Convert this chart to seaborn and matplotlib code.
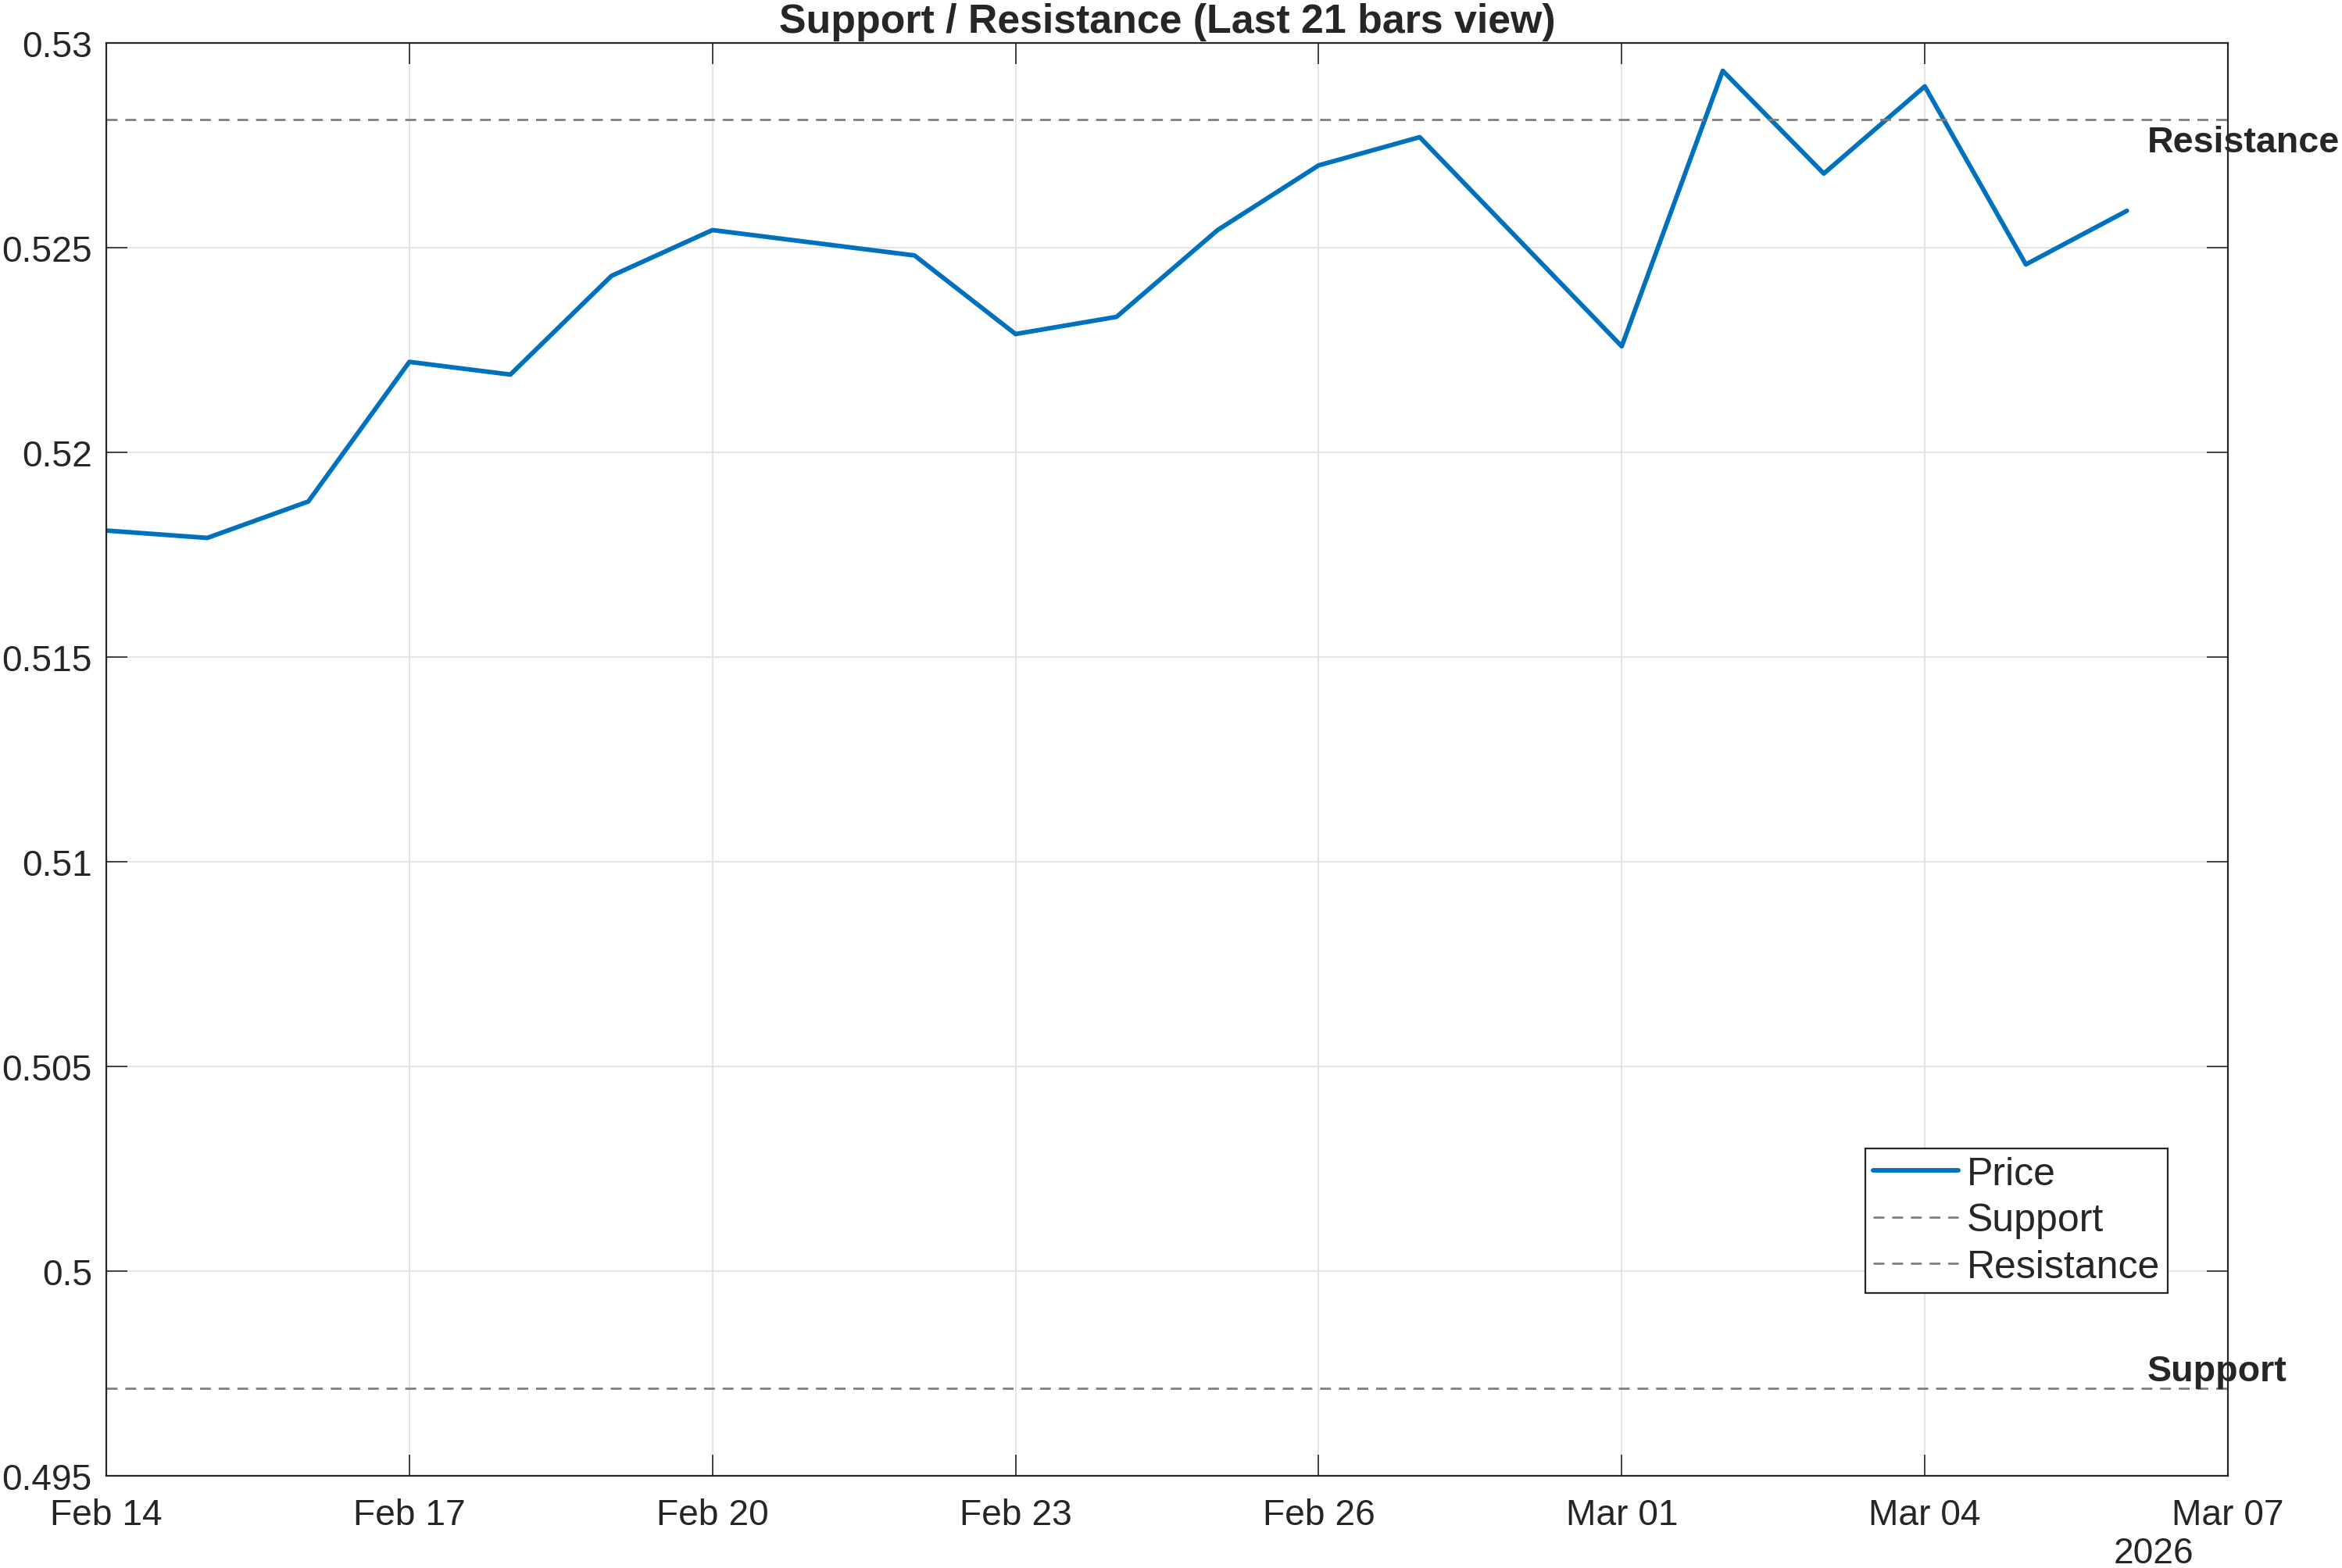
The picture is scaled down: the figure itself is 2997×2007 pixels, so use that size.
import numpy as np
import pandas as pd
import matplotlib
matplotlib.use("Agg")
import matplotlib.pyplot as plt
import matplotlib.dates as mdates
import seaborn as sns

# ---- data ----
dates = ["2026-02-14", "2026-02-15", "2026-02-16", "2026-02-17", "2026-02-18",
         "2026-02-19", "2026-02-20", "2026-02-22", "2026-02-23", "2026-02-24",
         "2026-02-25", "2026-02-26", "2026-02-27", "2026-03-01", "2026-03-02",
         "2026-03-03", "2026-03-04", "2026-03-05", "2026-03-06"]
prices = [0.51809, 0.51791, 0.51880, 0.52221, 0.52190, 0.52431, 0.52543,
          0.52481, 0.52289, 0.52331, 0.52543, 0.52701, 0.52770, 0.52259,
          0.52932, 0.52681, 0.52894, 0.52459, 0.52590]
support_level = 0.49714
resistance_level = 0.52813
tick_dates = ["2026-02-14", "2026-02-17", "2026-02-20", "2026-02-23",
              "2026-02-26", "2026-03-01", "2026-03-04", "2026-03-07"]
y_ticks = [0.495, 0.5, 0.505, 0.51, 0.515, 0.52, 0.525, 0.53]
y_tick_labels = ["0.495", "0.5", "0.505", "0.51", "0.515", "0.52", "0.525", "0.53"]
title = "Support / Resistance (Last 21 bars view)"
year_label = "2026"

df = pd.DataFrame({"Date": pd.to_datetime(dates), "Price": prices})
tick_dt = pd.to_datetime(tick_dates)

sns.set_theme(style="white")
plt.rcParams["font.family"] = ["Liberation Sans", "DejaVu Sans"]
TXT = "#262626"

DPI = 200
fig = plt.figure(figsize=(2997 / DPI, 2008 / DPI), dpi=DPI)
ax = fig.add_axes([136 / 2997, 1 - 1890 / 2008, (2851 - 136) / 2997, (1890 - 56) / 2008])

blue = (0.0, 0.447, 0.741)
sns.lineplot(data=df, x="Date", y="Price", ax=ax, color=blue, linewidth=2.1,
             label="Price", legend=False)
gray = (0.5, 0.5, 0.5)
ax.axhline(support_level, color=gray, linewidth=1.0, dashes=(5, 3.6), label="Support")
ax.axhline(resistance_level, color=gray, linewidth=1.0, dashes=(5, 3.6), label="Resistance")

ax.set_xlim(tick_dt[0], tick_dt[-1])
ax.set_ylim(y_ticks[0], y_ticks[-1])
ax.set_xticks(tick_dt)
ax.xaxis.set_major_formatter(mdates.DateFormatter("%b %d"))
ax.set_yticks(y_ticks)
ax.set_yticklabels(y_tick_labels)
ax.set_xlabel("")
ax.set_ylabel("")

ax.grid(True, color="#dfdfdf", linewidth=0.6)
ax.set_axisbelow(True)
for s in ax.spines.values():
    s.set_visible(True)
    s.set_color(TXT)
    s.set_linewidth(0.8)
ax.tick_params(axis="both", which="major", direction="in", length=9.7, width=0.6,
               color=TXT, labelcolor=TXT, labelsize=16.6,
               top=True, right=True, bottom=True, left=True)
ax.tick_params(axis="x", pad=10)
ax.tick_params(axis="y", pad=6.5)

ax.set_title(title, fontsize=18.7, fontweight="bold", color=TXT, pad=5)

label_x = df["Date"].iloc[-1] + pd.Timedelta(hours=4.8)
ax.annotate("Resistance", xy=(label_x, resistance_level), xytext=(0, -2.6),
            textcoords="offset points", fontsize=16.8, fontweight="bold",
            color=TXT, ha="left", va="top", annotation_clip=False)
ax.annotate("Support", xy=(label_x, support_level), xytext=(0, 0),
            textcoords="offset points", fontsize=16.8, fontweight="bold",
            color=TXT, ha="left", va="bottom", annotation_clip=False)

ax.text(0.9838, -0.0605, year_label, transform=ax.transAxes, fontsize=16.6,
        color=TXT, ha="right", va="baseline")

leg = ax.legend(loc="lower right", bbox_to_anchor=(0.9716, 0.1276), borderaxespad=0,
                fontsize=18, frameon=True, fancybox=False, handlelength=2.17,
                handletextpad=0.22, borderpad=0.2, labelspacing=0.27)
leg.get_frame().set_edgecolor(TXT)
leg.get_frame().set_linewidth(0.8)
leg.get_frame().set_alpha(1)
for t in leg.get_texts():
    t.set_color(TXT)

fig.savefig("out.png", dpi=DPI, facecolor="white")
